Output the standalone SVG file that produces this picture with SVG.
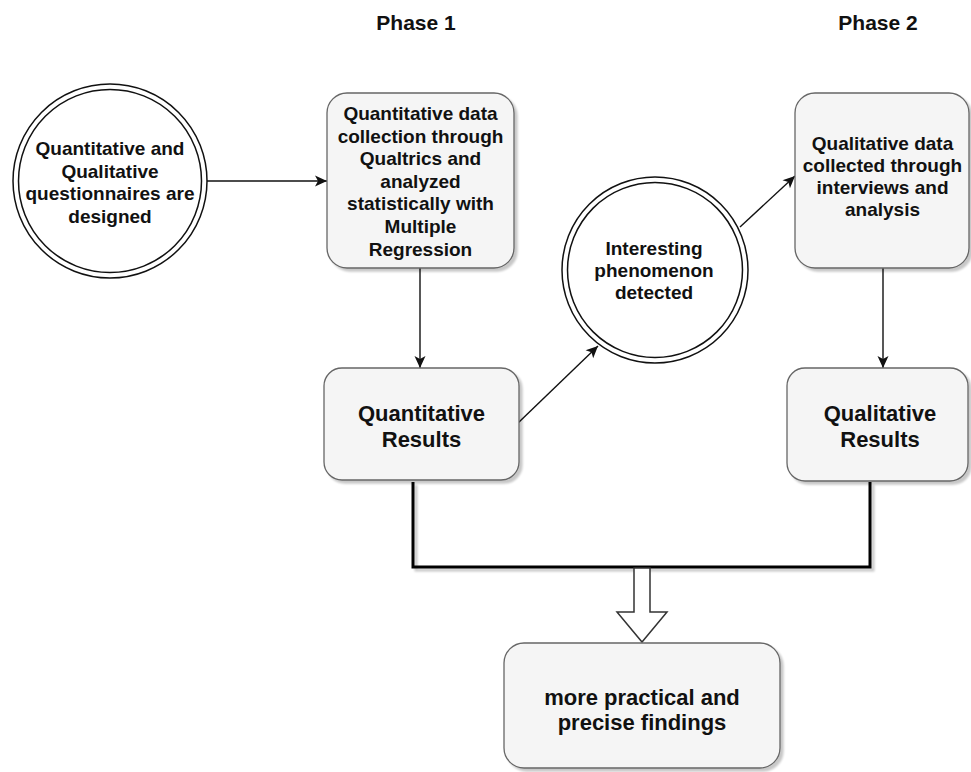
<svg xmlns="http://www.w3.org/2000/svg" width="971" height="772" viewBox="0 0 971 772">
  <defs>
    <style>
      text { font-family: "Liberation Sans", Arial, Helvetica, sans-serif; font-weight: bold; fill: #111; text-anchor: middle; }
      .t19 { font-size: 19px; }
      .t22 { font-size: 22px; }
      .phase { font-size: 21px; }
      .box { fill: #f5f5f5; stroke: #666; stroke-width: 1.3; }
      .ring { fill: #fff; stroke: #111; stroke-width: 1.5; }
      .ring-in { fill: none; stroke: #111; stroke-width: 1.5; }
      .edge { fill: none; stroke: #111; stroke-width: 1.4; }
      .bracket { fill: none; stroke: #000; stroke-width: 3; }
      .block { fill: #fff; stroke: #333; stroke-width: 1.5; stroke-linejoin: miter; }
    </style>
    <filter id="shadow" x="-10%" y="-10%" width="130%" height="130%">
      <feGaussianBlur in="SourceAlpha" stdDeviation="0.8"/>
      <feOffset dx="3" dy="3" result="off"/>
      <feComponentTransfer>
        <feFuncA type="linear" slope="0.22"/>
      </feComponentTransfer>
      <feMerge>
        <feMergeNode/>
        <feMergeNode in="SourceGraphic"/>
      </feMerge>
    </filter>
    <marker id="arrow" markerWidth="14" markerHeight="12" refX="13" refY="6" orient="auto" markerUnits="userSpaceOnUse">
      <path d="M1,0.5 L13,6 L1,11.5 L4,6 Z" fill="#111"/>
    </marker>
  </defs>

  <!-- phase headings -->
  <text class="phase" x="416" y="30">Phase 1</text>
  <text class="phase" x="878" y="30">Phase 2</text>

  <!-- connectors -->
  <g id="connectors">
    <line class="edge" x1="207" y1="181" x2="327" y2="181" marker-end="url(#arrow)"/>
    <line class="edge" x1="420" y1="268" x2="420" y2="368" marker-end="url(#arrow)"/>
    <line class="edge" x1="518" y1="423" x2="598" y2="346" marker-end="url(#arrow)"/>
    <line class="edge" x1="740" y1="227" x2="795" y2="176" marker-end="url(#arrow)"/>
    <line class="edge" x1="883" y1="268" x2="883" y2="368" marker-end="url(#arrow)"/>
    <path class="bracket" filter="url(#shadow)" d="M413,482 V567 H870 V482"/>
    <polygon class="block" points="634,568 650,568 650,612 667,612 642,642 617,612 634,612"/>
  </g>

  <!-- start: questionnaires designed -->
  <g id="node-design">
    <circle class="ring" cx="110" cy="181" r="97"/>
    <circle class="ring-in" cx="110" cy="181" r="91.5"/>
    <text class="t19" x="110" y="155">Quantitative and</text>
    <text class="t19" x="110" y="177.5">Qualitative</text>
    <text class="t19" x="110" y="200">questionnaires are</text>
    <text class="t19" x="110" y="222.5">designed</text>
  </g>

  <!-- phase 1: quantitative collection -->
  <g id="node-quant-collect">
    <rect class="box" filter="url(#shadow)" x="327" y="93" width="187" height="175" rx="20" ry="20"/>
    <text class="t19" x="420.5" y="120">Quantitative data</text>
    <text class="t19" x="420.5" y="142.6">collection through</text>
    <text class="t19" x="420.5" y="165.2">Qualtrics and</text>
    <text class="t19" x="420.5" y="187.8">analyzed</text>
    <text class="t19" x="420.5" y="210.4">statistically with</text>
    <text class="t19" x="420.5" y="233">Multiple</text>
    <text class="t19" x="420.5" y="255.6">Regression</text>
  </g>

  <!-- phase 1: results -->
  <g id="node-quant-results">
    <rect class="box" filter="url(#shadow)" x="324" y="368" width="195" height="112" rx="18" ry="18"/>
    <text class="t22" x="421.5" y="421">Quantitative</text>
    <text class="t22" x="421.5" y="447">Results</text>
  </g>

  <!-- trigger between phases -->
  <g id="node-phenomenon">
    <circle class="ring" cx="655" cy="270" r="93"/>
    <circle class="ring-in" cx="655" cy="270" r="87.5"/>
    <text class="t19" x="654" y="255">Interesting</text>
    <text class="t19" x="654" y="277">phenomenon</text>
    <text class="t19" x="654" y="299">detected</text>
  </g>

  <!-- phase 2: qualitative collection -->
  <g id="node-qual-collect">
    <rect class="box" filter="url(#shadow)" x="795" y="93" width="174" height="175" rx="20" ry="20"/>
    <text class="t19" x="882.5" y="150">Qualitative data</text>
    <text class="t19" x="882.5" y="172">collected through</text>
    <text class="t19" x="882.5" y="194">interviews and</text>
    <text class="t19" x="882.5" y="216">analysis</text>
  </g>

  <!-- phase 2: results -->
  <g id="node-qual-results">
    <rect class="box" filter="url(#shadow)" x="787" y="368" width="181" height="113" rx="18" ry="18"/>
    <text class="t22" x="880" y="421">Qualitative</text>
    <text class="t22" x="880" y="447">Results</text>
  </g>

  <!-- combined outcome -->
  <g id="node-findings">
    <rect class="box" filter="url(#shadow)" x="504" y="643" width="276" height="125" rx="20" ry="20"/>
    <text class="t22" x="642" y="705">more practical and</text>
    <text class="t22" x="642" y="730">precise findings</text>
  </g>
</svg>
